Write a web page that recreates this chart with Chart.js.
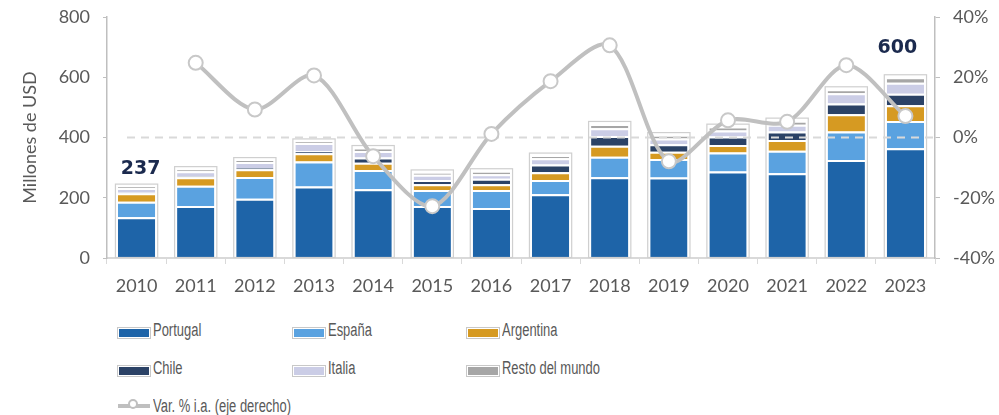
<!DOCTYPE html>
<html lang="es">
<head>
<meta charset="utf-8">
<title>Exportaciones</title>
<script src="https://cdn.jsdelivr.net/npm/chart.js@4.4.1/dist/chart.umd.min.js"></script>
<style>
  body { margin: 0; background: #fff; }
  #wrap { position: relative; width: 999px; height: 415px; }
  #grafica { position: absolute; left: 0; top: 0; width: 999px; height: 300px; }
  .ley { position: absolute; display: flex; align-items: center; height: 22px;
         font-family: "Liberation Sans", Arial, sans-serif;
         font-size: 18px; color: #595959; white-space: nowrap; }
  .ley b { font-weight: normal; display: inline-block; transform: scaleX(0.72); transform-origin: left center; }
  .caja { width: 30px; height: 8px; margin-right: 3px; margin-top: 5px;
          outline: 1px solid #c8c8c8; border: 1px solid #fff; }
  .linea { position: relative; width: 32px; height: 4px; background: #bfbfbf; margin-right: 3px; }
  .linea span { position: absolute; left: 10px; top: -5px; width: 10px; height: 10px;
                border-radius: 50%; background: #fff; border: 2px solid #bfbfbf; box-sizing: border-box; }
</style>
</head>
<body>
<div id="wrap">
  <div id="grafica"><canvas id="myChart"></canvas></div>
  <div id="leyenda"></div>
</div>
<script>
// datos (millones de USD)
var anios = ['2010','2011','2012','2013','2014','2015','2016','2017','2018','2019','2020','2021','2022','2023'];
var portugal  = [135, 173, 197, 237, 228, 173, 166, 212, 268, 267, 287, 281, 325, 364];
var espana    = [ 52,  67,  72,  83,  64,  53,  60,  47,  68,  62,  63,  75,  95,  91];
var argentina = [ 28,  28,  26,  28,  24,  19,  19,  26,  37,  24,  25,  36,  57,  52];
var chile     = [  2,   3,   4,   6,  18,  14,  18,  25,  32,  25,  28,  28,  36,  38];
var italia    = [ 15,  17,  20,  28,  21,  17,  15,  21,  26,  19,  20,  22,  34,  37];
var resto     = [  5,   7,   6,   5,  10,   8,  10,   9,  14,  11,  13,  14,  13,  18];
// variacion % interanual (eje derecho)
var variacion = [null, 24.8, 9.3, 20.6, -6.2, -22.8, 1.2, 18.7, 30.6, -7.9, 5.7, 5.2, 24.0, 7.1];
// totales que se rotulan
var totalesRotulo = ['237', null, null, null, null, null, null, null, null, null, null, null, null, '600'];
var ticksIzq = [0, 200, 400, 600, 800];
var ticksDer = [-40, -20, 0, 20, 40];

var colores = ['#1e64a8', '#5aa2e0', '#d69a22', '#2b4266', '#cbcde6', '#a6a6a6'];
var nombres = ['Portugal', 'España', 'Argentina', 'Chile', 'Italia', 'Resto del mundo'];
var series = [portugal, espana, argentina, chile, italia, resto];

var fuenteEje = { family: 'Lato, "Open Sans", sans-serif', size: 18 };

// marco gris de cada barra y linea punteada del 0%
var marcoPlugin = {
    id: 'marco',
    afterDatasetDraw: function (chart, args) {
        if (args.index !== 0) return; // ya se dibujaron todas las barras
        var ctx = chart.ctx;
        var area = chart.chartArea;
        var base = chart.getDatasetMeta(0).data;
        var tope = chart.getDatasetMeta(5).data;
        ctx.save();
        ctx.strokeStyle = '#cfcfcf';
        ctx.lineWidth = 1.2;
        for (var i = 0; i < base.length; i++) {
            var w = base[i].width;
            var x = base[i].x - w / 2 - 2.5;
            var y = tope[i].y - 2.5;
            ctx.strokeRect(x, y, w + 5, base[i].base - y);
        }
        var y0 = chart.scales.y2.getPixelForValue(0);
        ctx.strokeStyle = '#d9d9d9';
        ctx.lineWidth = 2;
        ctx.setLineDash([8, 6]);
        ctx.beginPath();
        ctx.moveTo(area.left + 20, y0);
        ctx.lineTo(area.right, y0);
        ctx.stroke();
        ctx.restore();
    },
    afterDatasetsDraw: function (chart) {
        var ctx = chart.ctx;
        var tope = chart.getDatasetMeta(5).data;
        var desp = chart.options.plugins.marco.desp;
        ctx.save();
        ctx.font = 'bold 19px "DejaVu Sans", sans-serif';
        ctx.fillStyle = '#1b2a4e';
        ctx.textAlign = 'center';
        ctx.textBaseline = 'middle';
        totalesRotulo.forEach(function (t, i) {
            if (!t) return;
            var d = desp[i] || [0, -18];
            ctx.fillText(t, tope[i].x + d[0], tope[i].y + d[1]);
        });
        ctx.restore();
    }
};

var datasets = series.map(function (s, i) {
    return {
        type: 'bar',
        label: nombres[i],
        data: s,
        backgroundColor: colores[i],
        borderColor: '#ffffff',
        borderWidth: { top: 2, left: 0, right: 0, bottom: 0 },
        borderSkipped: false,
        barPercentage: 0.63,
        categoryPercentage: 1,
        yAxisID: 'y',
        order: 1
    };
});
datasets.push({
    type: 'line',
    label: 'Var. % i.a. (eje derecho)',
    data: variacion,
    borderColor: '#c0c0c0',
    borderWidth: 4,
    tension: 0.3,
    pointRadius: 7,
    pointBackgroundColor: '#ffffff',
    pointBorderColor: '#c8c8c8',
    pointBorderWidth: 2,
    yAxisID: 'y2',
    order: 0
});

// sin relleno extra arriba/abajo en los ejes verticales
function sinRelleno(s) { s.paddingTop = 0; s.paddingBottom = 0; }

var graphTarget = document.getElementById('myChart');
var barGraph = new Chart(graphTarget, {
    data: { labels: anios, datasets: datasets },
    plugins: [marcoPlugin],
    options: {
        responsive: true,
        maintainAspectRatio: false,
        animation: false,
        layout: { padding: { top: 17, left: 0, right: 0, bottom: 0 } },
        plugins: {
            legend: { display: false },
            tooltip: { enabled: false },
            marco: { desp: { 0: [4, -18], 13: [-8, -29] } }
        },
        scales: {
            x: {
                stacked: true,
                afterFit: function (s) { s.height = 42; },
                grid: { offset: true, drawOnChartArea: false, drawTicks: true, tickLength: 6, color: '#d9d9d9' },
                border: { color: '#d9d9d9', width: 2 },
                ticks: { color: '#595959', font: fuenteEje, padding: 11, maxRotation: 0 }
            },
            y: {
                stacked: true,
                position: 'left',
                min: 0, max: 800,
                afterFit: function (s) { s.width = 107; sinRelleno(s); },
                afterBuildTicks: function (s) { s.ticks = ticksIzq.map(function (v) { return { value: v }; }); },
                grid: { drawOnChartArea: false, drawTicks: true, tickLength: 4, color: '#bfbfbf' },
                border: { color: '#bfbfbf', width: 1.5 },
                ticks: { color: '#595959', font: fuenteEje, padding: 13 },
                title: { display: true, text: 'Millones de USD', color: '#595959',
                         font: fuenteEje, padding: { top: 19, bottom: 0 } }
            },
            y2: {
                position: 'right',
                min: -40, max: 40,
                afterFit: function (s) { s.width = 64; sinRelleno(s); },
                afterBuildTicks: function (s) { s.ticks = ticksDer.map(function (v) { return { value: v }; }); },
                grid: { drawOnChartArea: false, drawTicks: true, tickLength: 5, color: '#bfbfbf' },
                border: { color: '#bfbfbf', width: 1.5 },
                ticks: { color: '#595959', font: fuenteEje, padding: 13,
                         callback: function (v) { return v + '%'; } }
            }
        }
    }
});

// leyenda en tres columnas
var leyenda = document.getElementById('leyenda');
var columnas = [118, 293, 467];
var filas = [319, 357];
nombres.forEach(function (n, i) {
    var d = document.createElement('div');
    d.className = 'ley';
    d.style.left = columnas[i % 3] + 'px';
    d.style.top = filas[Math.floor(i / 3)] + 'px';
    d.innerHTML = '<div class="caja" style="background:' + colores[i] + '"></div><b>' + n + '</b>';
    leyenda.appendChild(d);
});
var dl = document.createElement('div');
dl.className = 'ley';
dl.style.left = '118px';
dl.style.top = '395px';
dl.innerHTML = '<div class="linea"><span></span></div><b>Var. % i.a. (eje derecho)</b>';
leyenda.appendChild(dl);
</script>
</body>
</html>
